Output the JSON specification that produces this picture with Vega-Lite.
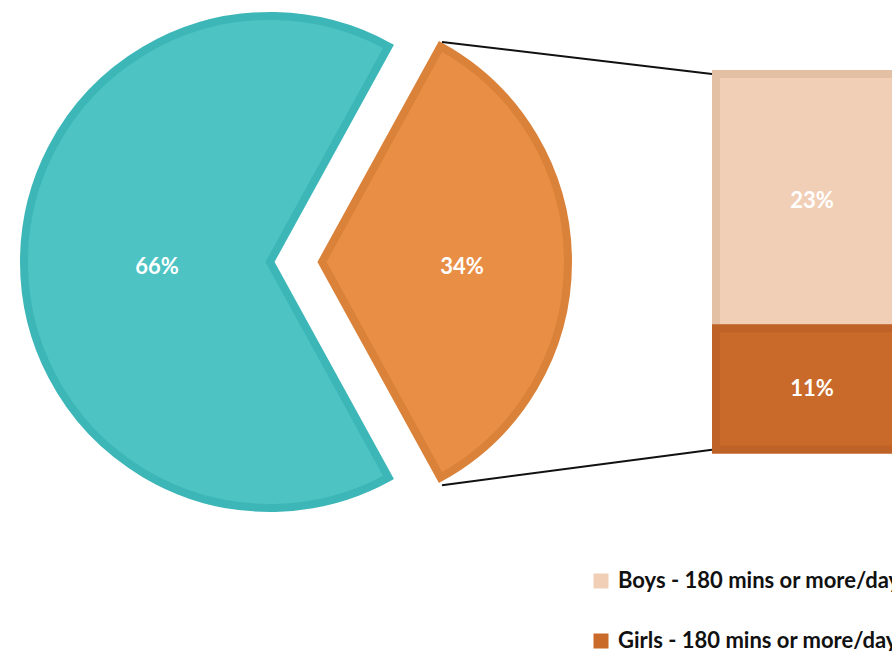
{
  "$schema": "https://vega.github.io/schema/vega-lite/v6.json",
  "width": 892,
  "height": 651,
  "padding": 0,
  "autosize": {"type": "none"},
  "background": "white",
  "config": {"view": {"stroke": null}, "font": "Lato"},
  "datasets": {
    "pie": [
      {"group": "Less than 180 mins/day", "share": 0.66},
      {"group": "180 mins or more/day", "share": 0.34}
    ],
    "split": [
      {"group": "Boys - 180 mins or more/day", "share": 0.23},
      {"group": "Girls - 180 mins or more/day", "share": 0.11}
    ],
    "one": [{}]
  },
  "layer": [
    {
      "data": {"name": "pie"},
      "transform": [
        {"stack": "share", "groupby": [], "sort": [{"field": "share", "order": "ascending"}], "as": ["t0", "t1"]},
        {"filter": "datum.group == 'Less than 180 mins/day'"}
      ],
      "mark": {"type": "arc", "radius": 246, "fill": "#4DC3C3", "stroke": "#3DB6B8", "strokeWidth": 8},
      "encoding": {
        "theta": {"field": "t0", "type": "quantitative", "scale": {"domain": [0, 1], "range": [0.5027, 6.7859]}},
        "theta2": {"field": "t1"},
        "x": {"datum": 270, "type": "quantitative", "scale": {"domain": [0, 892], "nice": false, "zero": false}, "axis": null},
        "y": {"datum": 0.17, "type": "quantitative", "scale": {"domain": [-0.182, 0.407], "nice": false, "zero": false}, "axis": null}
      }
    },
    {
      "data": {"name": "pie"},
      "transform": [
        {"stack": "share", "groupby": [], "sort": [{"field": "share", "order": "ascending"}], "as": ["t0", "t1"]},
        {"filter": "datum.group == '180 mins or more/day'"}
      ],
      "mark": {"type": "arc", "radius": 246, "fill": "#E98E45", "stroke": "#DA8239", "strokeWidth": 8},
      "encoding": {
        "theta": {"field": "t0", "type": "quantitative", "scale": {"domain": [0, 1], "range": [0.5027, 6.7859]}},
        "theta2": {"field": "t1"},
        "x": {"datum": 322, "type": "quantitative"},
        "y": {"datum": 0.17, "type": "quantitative"}
      }
    },
    {
      "data": {"name": "pie"},
      "transform": [{"filter": "datum.group == 'Less than 180 mins/day'"}],
      "mark": {"type": "text", "color": "white", "fontSize": 22, "fontWeight": "bold", "align": "center", "baseline": "middle"},
      "encoding": {
        "text": {"field": "share", "type": "quantitative", "format": ".0%"},
        "x": {"datum": 157, "type": "quantitative"},
        "y": {"datum": 0.1654, "type": "quantitative"}
      }
    },
    {
      "data": {"name": "pie"},
      "transform": [{"filter": "datum.group == '180 mins or more/day'"}],
      "mark": {"type": "text", "color": "white", "fontSize": 22, "fontWeight": "bold", "align": "center", "baseline": "middle"},
      "encoding": {
        "text": {"field": "share", "type": "quantitative", "format": ".0%"},
        "x": {"datum": 462, "type": "quantitative"},
        "y": {"datum": 0.1654, "type": "quantitative"}
      }
    },
    {
      "data": {"name": "one"},
      "mark": {"type": "rule", "color": "#111111", "strokeWidth": 2},
      "encoding": {
        "x": {"datum": 442, "type": "quantitative"},
        "x2": {"datum": 712},
        "y": {"datum": 0.369, "type": "quantitative"},
        "y2": {"datum": 0.34}
      }
    },
    {
      "data": {"name": "one"},
      "mark": {"type": "rule", "color": "#111111", "strokeWidth": 2},
      "encoding": {
        "x": {"datum": 442, "type": "quantitative"},
        "x2": {"datum": 712},
        "y": {"datum": -0.032, "type": "quantitative"},
        "y2": {"datum": 0}
      }
    },
    {
      "data": {"name": "split"},
      "transform": [
        {"stack": "share", "groupby": [], "sort": [{"field": "share", "order": "ascending"}], "as": ["b0", "b1"]}
      ],
      "mark": {"type": "rect", "strokeWidth": 8},
      "encoding": {
        "x": {"datum": 716, "type": "quantitative"},
        "x2": {"datum": 1000},
        "y": {"field": "b0", "type": "quantitative"},
        "y2": {"field": "b1"},
        "color": {
          "field": "group",
          "type": "nominal",
          "scale": {"domain": ["Boys - 180 mins or more/day", "Girls - 180 mins or more/day"], "range": ["#F1CFB6", "#C96A2A"]},
          "legend": {
            "title": null,
            "orient": "none",
            "legendX": 590,
            "legendY": 570,
            "direction": "vertical",
            "symbolType": "square",
            "symbolSize": 225,
            "symbolStrokeWidth": 0,
            "labelFont": "Lato",
            "labelFontSize": 22,
            "labelFontWeight": "bold",
            "labelColor": "#111111",
            "labelLimit": 0,
            "labelOffset": 6,
            "rowPadding": 38
          }
        },
        "stroke": {
          "field": "group",
          "type": "nominal",
          "scale": {"domain": ["Boys - 180 mins or more/day", "Girls - 180 mins or more/day"], "range": ["#E3BFA4", "#BE6227"]},
          "legend": null
        }
      }
    },
    {
      "data": {"name": "split"},
      "mark": {"type": "text", "color": "white", "fontSize": 22, "fontWeight": "bold", "align": "center", "baseline": "middle"},
      "encoding": {
        "x": {"datum": 812, "type": "quantitative"},
        "y": {"field": "share", "type": "quantitative", "stack": "zero", "bandPosition": 0.5},
        "order": {"field": "share", "type": "quantitative", "sort": "ascending"},
        "text": {"field": "share", "type": "quantitative", "format": ".0%"}
      }
    }
  ]
}
